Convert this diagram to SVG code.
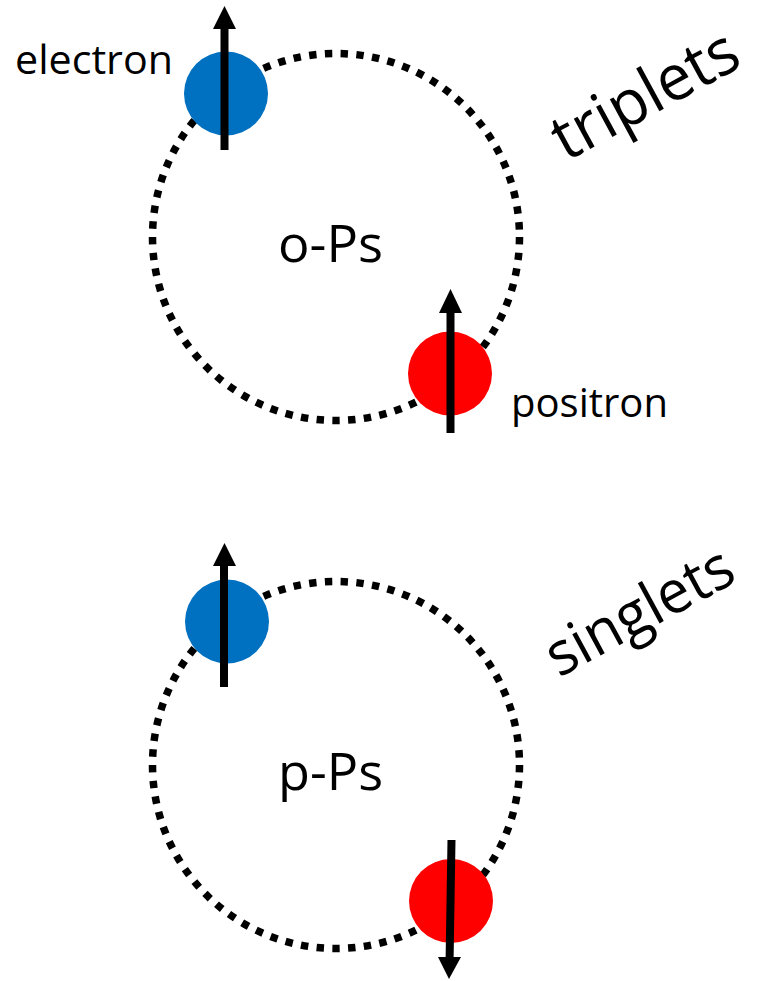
<svg xmlns="http://www.w3.org/2000/svg" width="760" height="981" viewBox="0 0 760 981">
<style>
.orbit{fill:none;stroke:#000;stroke-width:7.5;stroke-dasharray:7.4 8.4}
.el{fill:#0070C0}
.po{fill:#FF0000}
.shaft{stroke:#000;stroke-width:8;fill:none}
.head{fill:#000}
.lbl{font-family:"Open Sans","Liberation Sans",sans-serif;fill:#000}
</style>
<rect width="760" height="981" fill="#fff"/>
<g id="connectors">
<circle class="orbit" cx="336" cy="237" r="183.5"/>
<circle class="orbit" cx="336" cy="765" r="183.5"/>
</g>
<g id="ops-electron">
<circle class="el" cx="226" cy="93.5" r="42"/>
<line class="shaft" x1="224.5" y1="150" x2="224.5" y2="27"/>
<polygon class="head" points="224.5,6 236,29 213,29"/>
<text class="lbl" x="15" y="74" font-size="40" textLength="158" lengthAdjust="spacingAndGlyphs">electron</text>
</g>
<g id="ops-positron">
<circle class="po" cx="450" cy="373.5" r="42"/>
<line class="shaft" x1="450.5" y1="433" x2="450.5" y2="311"/>
<polygon class="head" points="450.5,289 462,313 439,313"/>
<text class="lbl" x="511" y="417" font-size="40" textLength="157" lengthAdjust="spacingAndGlyphs">positron</text>
</g>
<g id="ops-label">
<text class="lbl" x="278" y="262" font-size="52" textLength="105" lengthAdjust="spacingAndGlyphs">o-Ps</text>
</g>
<g id="triplets">
<text class="lbl" font-size="64" transform="translate(566,162) rotate(-28.5)" textLength="203" lengthAdjust="spacingAndGlyphs">triplets</text>
</g>
<g id="pps-electron">
<circle class="el" cx="227" cy="621.5" r="42"/>
<line class="shaft" x1="224" y1="687" x2="224" y2="564"/>
<polygon class="head" points="224.5,543 236,566 213,566"/>
</g>
<g id="pps-positron">
<circle class="po" cx="451" cy="901" r="42"/>
<line class="shaft" x1="451.5" y1="840" x2="449.6" y2="959"/>
<polygon class="head" points="449,979 461,957 438,957"/>
</g>
<g id="pps-label">
<text class="lbl" x="278" y="790" font-size="52" textLength="105" lengthAdjust="spacingAndGlyphs">p-Ps</text>
</g>
<g id="singlets">
<text class="lbl" font-size="60" transform="translate(559,678) rotate(-28.5)" textLength="205" lengthAdjust="spacingAndGlyphs">singlets</text>
</g>
</svg>
